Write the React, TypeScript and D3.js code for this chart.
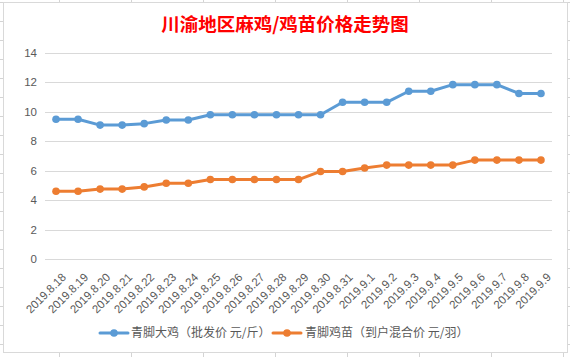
import React from "react";
import * as d3 from "d3";

const dates = [
  "2019.8.18", "2019.8.19", "2019.8.20", "2019.8.21", "2019.8.22", "2019.8.23",
  "2019.8.24", "2019.8.25", "2019.8.26", "2019.8.27", "2019.8.28", "2019.8.29",
  "2019.8.30", "2019.8.31", "2019.9.1", "2019.9.2", "2019.9.3", "2019.9.4",
  "2019.9.5", "2019.9.6", "2019.9.7", "2019.9.8", "2019.9.9",
];
const chickenPrice = [
  9.5, 9.5, 9.1, 9.1, 9.2, 9.45, 9.45, 9.8, 9.8, 9.8, 9.8, 9.8,
  9.8, 10.65, 10.65, 10.65, 11.4, 11.4, 11.85, 11.85, 11.85, 11.25, 11.25,
];
const chickPrice = [
  4.6, 4.6, 4.75, 4.75, 4.9, 5.15, 5.15, 5.4, 5.4, 5.4, 5.4, 5.4,
  5.95, 5.95, 6.18, 6.38, 6.38, 6.38, 6.38, 6.72, 6.72, 6.72, 6.72,
];
const yTicks = [0, 2, 4, 6, 8, 10, 12, 14];
const seriesNames = ["青脚大鸡（批发价 元/斤）", "青脚鸡苗（到户混合价 元/羽）"];
const seriesColors = ["#5B9BD5", "#ED7D31"];
const title = "川渝地区麻鸡/鸡苗价格走势图";

const W = 570;
const H = 357;

export default function App() {
  const x = d3.scaleBand<string>().domain(dates).range([45, 552]);
  const y = d3.scaleLinear().domain([0, 14]).range([259, 53]);
  const cx = (d: string) => (x(d) as number) + x.bandwidth() / 2;
  const series = [chickenPrice, chickPrice];
  const line = d3
    .line<number>()
    .x((_, i) => cx(dates[i]))
    .y((v) => y(v));

  const colX = d3.range(-1, 9).map((k) => 59.5 + 72 * k);
  const rowY = d3.range(-1, 20).map((k) => 21.5 + 19 * k);
  const axisFont = "'Liberation Sans', Arial, sans-serif";
  const cjkFont = "'Noto Sans CJK SC', 'Noto Sans', sans-serif";

  const legendItems = [
    { lx: 100, tx: 131 },
    { lx: 273, tx: 305 },
  ];

  return (
    <svg
      width={W}
      height={H}
      style={{ position: "absolute", left: 0, top: 0, background: "#fff" }}
    >
      {/* spreadsheet cell grid */}
      <g stroke="#d4d4d4" strokeWidth={1}>
        {colX.map((v, i) => (
          <line key={"c" + i} x1={v} x2={v} y1={0} y2={H} />
        ))}
        {rowY.map((v, i) => (
          <line key={"r" + i} x1={0} x2={W} y1={v} y2={v} />
        ))}
      </g>
      {/* chart area */}
      <rect x={3.5} y={2.5} width={564} height={350} fill="#fff" stroke="#d9d9d9" strokeWidth={1} />

      {/* title */}
      <text
        x={285}
        y={23}
        textAnchor="middle"
        dominantBaseline="central"
        fill="#FF0000"
        fontFamily={cjkFont}
        fontWeight="bold"
        fontSize={18.5}
      >
        {title}
      </text>

      {/* gridlines and y labels */}
      {yTicks.map((t) => (
        <g key={t}>
          <line x1={45} x2={552} y1={Math.round(y(t)) + 0.5} y2={Math.round(y(t)) + 0.5} stroke="#d9d9d9" strokeWidth={1} />
          <text
            x={37}
            y={y(t)}
            dy="0.35em"
            textAnchor="end"
            fill="#595959"
            fontFamily={axisFont}
            fontSize={11.5}
          >
            {t}
          </text>
        </g>
      ))}

      {/* x labels */}
      {dates.map((d) => (
        <text
          key={d}
          transform={`translate(${cx(d) + 8},${275}) rotate(-45)`}
          dy="0.35em"
          textAnchor="end"
          fill="#595959"
          fontFamily={axisFont}
          fontSize={11.5}
        >
          {d}
        </text>
      ))}

      {/* series */}
      {series.map((vals, si) => (
        <g key={si}>
          <path d={line(vals) || ""} fill="none" stroke={seriesColors[si]} strokeWidth={3} strokeLinejoin="round" strokeLinecap="round" />
          {vals.map((v, i) => (
            <circle key={i} cx={cx(dates[i])} cy={y(v)} r={3.8} fill={seriesColors[si]} />
          ))}
        </g>
      ))}

      {/* legend */}
      {legendItems.map((it, si) => (
        <g key={si}>
          <line x1={it.lx} x2={it.lx + 28} y1={333} y2={333} stroke={seriesColors[si]} strokeWidth={3} strokeLinecap="round" />
          <circle cx={it.lx + 14} cy={333} r={3.8} fill={seriesColors[si]} />
          <text
            x={it.tx}
            y={333}
            dy="0.35em"
            fill="#595959"
            fontFamily={cjkFont}
            fontSize={12}
          >
            {seriesNames[si]}
          </text>
        </g>
      ))}
    </svg>
  );
}
